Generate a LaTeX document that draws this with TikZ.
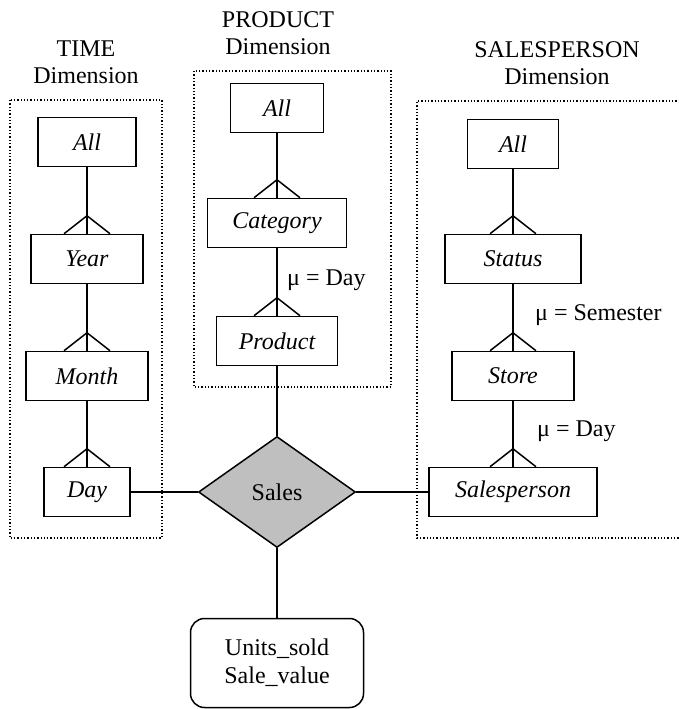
\documentclass[tikz,border=0pt]{standalone}
\usepackage{fontspec}
\setmainfont{Liberation Serif}
\usetikzlibrary{shapes.geometric}
\begin{document}
\begin{tikzpicture}[x=1pt,y=-1pt,
  every node/.style={font=\fontsize{24}{28}\selectfont},
  lvl/.style={draw,line width=1.5pt,rectangle,inner sep=0pt,minimum height=49pt,font=\fontsize{24}{28}\selectfont\itshape},
  conn/.style={line width=1.5pt},
  dimbox/.style={line width=1.3pt,dotted},
  lbl/.style={anchor=west,inner sep=0pt}]
\useasboundingbox (0,0) rectangle (678,709);
% dimension frames
\draw[dimbox] (10,100) rectangle (162,538);
\draw[dimbox] (194,71) rectangle (391,387);
\draw[dimbox] (680,101) -- (417,101) -- (417,538) -- (680,538);
% headers
\node (th1) at (86,49) {TIME};
\node (th2) at (86,76) {Dimension};
\node (ph1) at (278,20) {PRODUCT};
\node (ph2) at (278,47) {Dimension};
\node (sh1) at (557,50) {SALESPERSON};
\node (sh2) at (557,77) {Dimension};
% time
\node[lvl,minimum width=98pt] (tall) at (87,142) {All};
\node[lvl,minimum width=112pt] (year) at (87,259) {Year};
\node[lvl,minimum width=122pt] (month) at (87,376) {Month};
\node[lvl,minimum width=86pt] (day) at (87,492) {Day};
% product
\node[lvl,minimum width=93pt] (pall) at (277,108) {All};
\node[lvl,minimum width=139pt] (cat) at (277,223) {Category};
\node[lvl,minimum width=121pt] (prod) at (277,341) {Product};
% salesperson
\node[lvl,minimum width=91pt] (sall) at (513,144) {All};
\node[lvl,minimum width=136pt] (status) at (513,259) {Status};
\node[lvl,minimum width=122pt] (store) at (513,376) {Store};
\node[lvl,minimum width=168pt] (sp) at (513,492) {Salesperson};
% fact
\node[diamond,draw,line width=1.5pt,fill=black!25,aspect=1.414,inner sep=0pt,minimum width=157pt,minimum height=111pt] (sales) at (277,492) {Sales};
\node[draw,line width=1.5pt,rounded corners=14pt,inner sep=0pt,minimum width=173pt,minimum height=89pt,align=center] (units) at (277,663) {Units\_sold\\Sale\_value};
% hierarchy links with crow feet
\foreach \p/\c in {tall/year,year/month,month/day,pall/cat,cat/prod,sall/status,status/store,store/sp}{
  \draw[conn] (\p.south) -- (\c.north);
  \draw[conn] ([xshift=-23pt]\c.north) -- ([yshift=18pt]\c.north) -- ([xshift=23pt]\c.north);
}
% fact links
\draw[conn] (prod.south) -- (sales.north);
\draw[conn] (sales.south) -- (units.north);
\draw[conn] (day.east) -- (sales.west);
\draw[conn] (sales.east) -- (sp.west);
% labels
\node[lbl] (m1) at (287,280) {μ = Day};
\node[lbl] (m2) at (535,315) {μ = Semester};
\node[lbl] (m3) at (537,431) {μ = Day};
\end{tikzpicture}
\end{document}
